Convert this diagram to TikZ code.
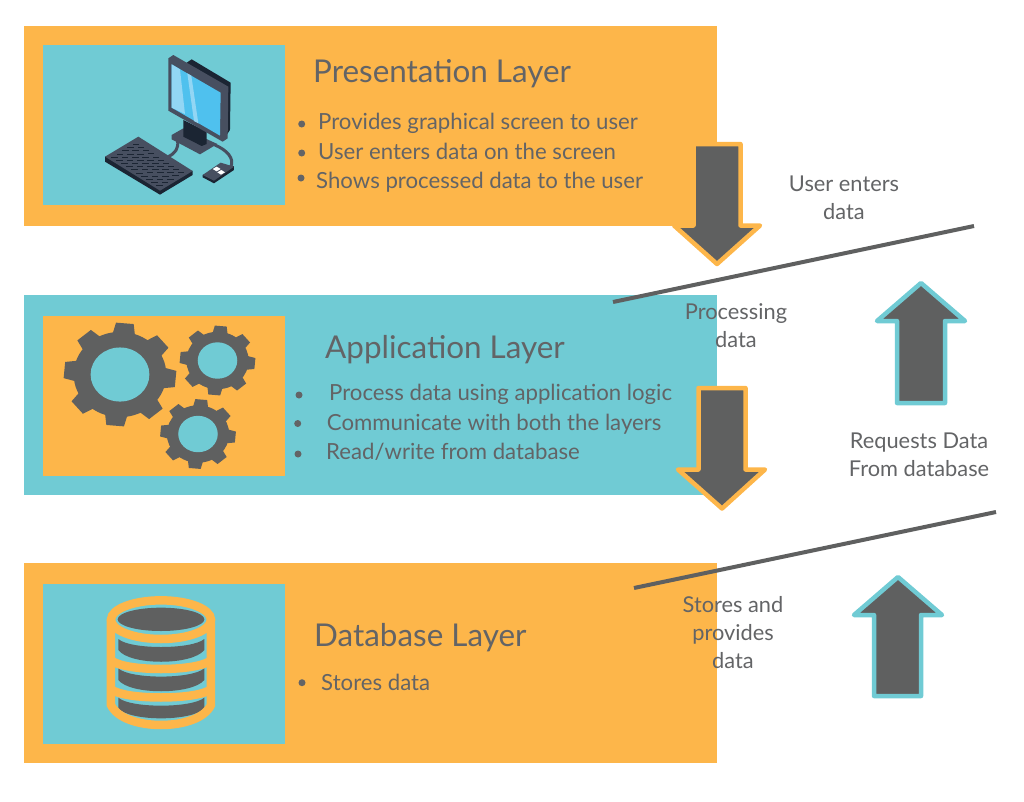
\documentclass[tikz,border=0pt]{standalone}
\usepackage{fontspec}
\setmainfont{Lato}
\definecolor{panelorange}{HTML}{FDB64A}
\definecolor{panelteal}{HTML}{70CBD4}
\definecolor{icongray}{HTML}{5F6060}
\definecolor{textgray}{HTML}{636466}
\definecolor{slate}{HTML}{474F60}
\definecolor{slatedark}{HTML}{1B2533}
\definecolor{screenblue}{HTML}{4FC1EE}
\definecolor{screenlight}{HTML}{92D6F4}

% one gear: centre x, centre y, x radius, y radius, hole colour
\newcommand{\gearicon}[5]{
    \begin{scope}[shift={(#1,#2)}, x=#3pt, y=#4pt]
        \fill[icongray] (0,0) circle (0.82);
        \foreach \a in {-5,40,...,310}{
            \fill[icongray] (\a-15:0.78) -- (\a-9:1) -- (\a+9:1) -- (\a+15:0.78) -- cycle;
        }
        \fill[#5] (0,0) circle (0.52);
    \end{scope}
}

\begin{document}
\begin{tikzpicture}[x=1pt, y=-1pt,
    panel/.style={
        minimum width=693pt,
        minimum height=200pt,
        inner sep=0pt,
        anchor=north west
    },
    inset/.style={
        minimum width=242pt,
        minimum height=160pt,
        inner sep=0pt,
        anchor=north west
    },
    layertitle/.style={
        anchor=base west,
        inner sep=0pt,
        text=textgray,
        font=\fontsize{31.4}{36}\selectfont
    },
    bullettext/.style={
        anchor=base west,
        inner sep=0pt,
        text=textgray,
        font=\fontsize{22.2}{28}\selectfont
    },
    flowlabel/.style={
        align=center,
        inner sep=0pt,
        text=textgray,
        font=\fontsize{21.8}{28}\selectfont
    },
    dot/.style={
        fill=textgray
    },
    downarrow/.style={
        draw=panelorange,
        fill=icongray,
        line width=4.5pt,
        line join=round
    },
    uparrow/.style={
        draw=panelteal,
        fill=icongray,
        line width=4.5pt,
        line join=round
    },
    divider/.style={
        draw=icongray,
        line width=4pt
    }
]

\useasboundingbox (0,0) rectangle (1024,801);

%%%%%%%%%%%%%%%%%%%%%%%%
% Panels
%%%%%%%%%%%%%%%%%%%%%%%%

\node[panel, fill=panelorange] (presentation) at (24,26) {};
\node[panel, fill=panelteal] (application) at (24,295) {};
\node[panel, fill=panelorange] (database) at (24,563) {};

\node[inset, fill=panelteal] (presentationicon) at (43,45) {};
\node[inset, fill=panelorange] (applicationicon) at (43,316) {};
\node[inset, fill=panelteal] (databaseicon) at (43,584) {};

%%%%%%%%%%%%%%%%%%%%%%%%
% Computer icon
%%%%%%%%%%%%%%%%%%%%%%%%

\begin{scope}[shift={(90,40)}, x=0.3333pt, y=-0.3333pt]
    % --- Cables ---
    \draw[slate, line width=3pt, line cap=round] (262,300) .. controls (268,325) and (255,340) .. (235,350);
    \draw[slate, line width=3pt, line cap=round] (375,315) .. controls (410,330) and (435,355) .. (422,382);
    % --- Stand ---
    \fill[slate] (245,285) -- (280,265) -- (382,312) -- (330,343) -- (245,298) -- cycle;
    \fill[slatedark] (280,240) -- (350,275) -- (350,312) -- (335,318) -- (280,290) -- cycle;
    % --- Monitor ---
    \fill[slatedark] (290,68) -- (305,58) -- (422,128) -- (420,270) -- (400,300) -- (330,200) -- cycle;
    \fill[slate] (235,55) -- (250,45) -- (415,140) -- (413,295) -- (398,305) -- (235,212) -- cycle;
    \fill[screenblue] (245,73) -- (392,158) -- (390,287) -- (245,203) -- cycle;
    \fill[screenlight] (245,73) -- (270,88) -- (285,222) -- (245,203) -- cycle;
    \fill[screenlight] (292,100) -- (304,107) -- (325,250) -- (312,243) -- cycle;
    % --- Keyboard ---
    \fill[slatedark] (45,350) -- (45,365) -- (210,464) -- (308,405) -- (308,393) -- cycle;
    \fill[slate] (45,350) -- (145,290) -- (308,393) -- (210,452) -- cycle;
    \begin{scope}[shift={(60,351)}, x={(5pt,-3.13pt)}, y={(5.33pt,3.2pt)}]
        \foreach \i in {0,...,9}{
            \foreach \j in {0,...,4}{
                \fill[slatedark] (\i+0.12,\j+0.15) rectangle (\i+0.82,\j+0.75);
            }
        }
    \end{scope}
    % --- Mouse ---
    \fill[slatedark] (338,405) -- (338,412) -- (372,430) -- (432,390) -- (432,378) -- cycle;
    \fill[slate] (338,405) -- (392,368) -- (432,380) -- (372,422) -- cycle;
    \fill[white] (368,387) -- (380,380) -- (392,387) -- (380,394) -- cycle;
    \fill[white] (382,397) -- (394,390) -- (405,397) -- (393,404) -- cycle;
\end{scope}

%%%%%%%%%%%%%%%%%%%%%%%%
% Gears icon
%%%%%%%%%%%%%%%%%%%%%%%%

\gearicon{120}{374.5}{56.5}{52}{panelteal}
\gearicon{217.5}{360.5}{38}{35}{panelteal}
\gearicon{198}{434}{38}{35}{panelteal}

%%%%%%%%%%%%%%%%%%%%%%%%
% Database icon
%%%%%%%%%%%%%%%%%%%%%%%%

\begin{scope}[shift={(90,585)}, x=0.3333pt, y=-0.3333pt]
    % --- Discs ---
    \fill[icongray] (213,103) ellipse (130 and 35);
    \fill[icongray] (85,162) .. controls (120,194) and (306,194) .. (343,162) -- (343,195)
        .. controls (306,242) and (120,242) .. (85,195) -- cycle;
    \fill[icongray] (85,250) .. controls (120,283) and (306,283) .. (343,250) -- (343,285)
        .. controls (306,330) and (120,330) .. (85,285) -- cycle;
    \fill[icongray] (85,338) .. controls (120,370) and (306,370) .. (343,338) -- (343,370)
        .. controls (306,410) and (120,410) .. (85,370) -- cycle;
    % --- Outline ---
    \begin{scope}[panelorange, line width=8.5pt]
        \draw (213,104) ellipse (150 and 58);
        \draw (63,104) -- (63,360) .. controls (100,440) and (326,440) .. (363,360) -- (363,104);
        \draw (63,225) .. controls (100,261) and (326,261) .. (363,225);
        \draw (63,312) .. controls (100,346) and (326,346) .. (363,312);
    \end{scope}
\end{scope}

%%%%%%%%%%%%%%%%%%%%%%%%
% Presentation text
%%%%%%%%%%%%%%%%%%%%%%%%

\node[layertitle] (presentationtitle) at (313,82) {Presentation Layer};
\fill[dot] (301.7,124) circle (3.5);
\node[bullettext] (presentationa) at (318,129.3) {Provides graphical screen to user};
\fill[dot] (301.7,153) circle (3.5);
\node[bullettext] (presentationb) at (318,159.3) {User enters data on the screen};
\fill[dot] (301,178) circle (3.5);
\node[bullettext] (presentationc) at (316,188.7) {Shows processed data to the user};

%%%%%%%%%%%%%%%%%%%%%%%%
% Application text
%%%%%%%%%%%%%%%%%%%%%%%%

\node[layertitle] (applicationtitle) at (325,358) {Application Layer};
\fill[dot] (299,395) circle (3.5);
\node[bullettext] (applicationa) at (329,400.3) {Process data using application logic};
\fill[dot] (297.7,423.5) circle (3.5);
\node[bullettext] (applicationb) at (326.7,430) {Communicate with both the layers};
\fill[dot] (298,454) circle (3.5);
\node[bullettext] (applicationc) at (326,459.7) {Read/write from database};

%%%%%%%%%%%%%%%%%%%%%%%%
% Database text
%%%%%%%%%%%%%%%%%%%%%%%%

\node[layertitle] (databasetitle) at (314,646.7) {Database Layer};
\fill[dot] (302,682.7) circle (3.5);
\node[bullettext] (databasea) at (321,690) {Stores data};

%%%%%%%%%%%%%%%%%%%%%%%%
% Arrows
%%%%%%%%%%%%%%%%%%%%%%%%

\draw[downarrow] (693.5,144) -- (740.5,144) -- (740.5,225.5) -- (760,225.5) -- (717,264)
    -- (674,225.5) -- (693.5,225.5) -- cycle;
\draw[downarrow] (698.5,388) -- (745.5,388) -- (745.5,469.5) -- (765,469.5) -- (722,508.5)
    -- (678,469.5) -- (698.5,469.5) -- cycle;
\draw[uparrow] (897,403) -- (945,403) -- (945,321) -- (965,321) -- (921,283)
    -- (877,321) -- (897,321) -- cycle;
\draw[uparrow] (874,696) -- (921,696) -- (921,615) -- (942,615) -- (898,577)
    -- (854,615) -- (874,615) -- cycle;

%%%%%%%%%%%%%%%%%%%%%%%%
% Dividers
%%%%%%%%%%%%%%%%%%%%%%%%

\coordinate (upperleft) at (613,302);
\coordinate (upperright) at (974,226);
\coordinate (lowerleft) at (634,588);
\coordinate (lowerright) at (996,512);
\draw[divider] (upperleft) -- (upperright);
\draw[divider] (lowerleft) -- (lowerright);

%%%%%%%%%%%%%%%%%%%%%%%%
% Flow labels
%%%%%%%%%%%%%%%%%%%%%%%%

\node[flowlabel] (userenters) at (844,198) {User enters\\data};
\node[flowlabel] (processing) at (736,326) {Processing\\data};
\node[flowlabel] (requests) at (919,455) {Requests Data\\From database};
\node[flowlabel] (stores) at (733,633) {Stores and\\provides\\data};

\end{tikzpicture}
\end{document}
